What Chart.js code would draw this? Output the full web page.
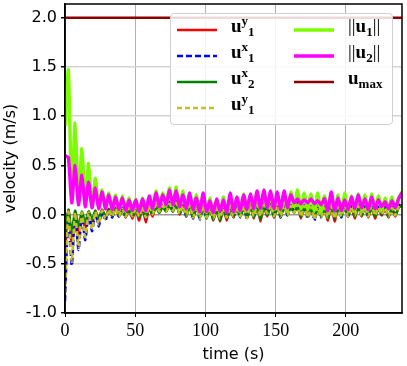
<!DOCTYPE html>
<html>
<head>
<meta charset="utf-8">
<script src="https://cdn.jsdelivr.net/npm/chart.js@4"></script>
<style>
  body { margin: 0; background: #fff; }
  #wrap { position: relative; width: 407px; height: 366px; }
  #legend {
    position: absolute; left: 170px; top: 13px; width: 221px; height: 110px;
    border: 1px solid #d0d0d0; border-radius: 4px; background: rgba(255,255,255,0.85);
  }
  .item { position: absolute; width: 110px; height: 26px; }
  .item svg { position: absolute; left: 0; top: 0; }
  .lab {
    position: absolute; left: 54px; top: -2px; line-height: 26px;
    font: bold 19px 'Liberation Serif', serif; white-space: nowrap; color: #000;
  }
  .lab sup, .lab sub { font-size: 13px; vertical-align: 0; position: relative; }
  .lab sup { top: -0.55em; }
  .lab sub { top: 0.3em; }
  .lab .bar { font-weight: normal; }
</style>
</head>
<body>
<div id="wrap">
  <canvas id="chart" width="407" height="366"></canvas>
  <div id="legend"></div>
</div>
<script>
// sample times (s)
const time = [
  0, 2.4, 4.8, 7.2, 9.6, 12, 14.4, 16.8, 19.2, 21.6,
  24, 26.4, 28.8, 31.2, 33.6, 36, 38.4, 40.8, 43.2, 45.6,
  48, 50.4, 52.8, 55.2, 57.6, 60, 62.4, 64.8, 67.2, 69.6,
  72, 74.4, 76.8, 79.2, 81.6, 84, 86.4, 88.8, 91.2, 93.6,
  96, 98.4, 100.8, 103.2, 105.6, 108, 110.4, 112.8, 115.2, 117.6,
  120, 122.4, 124.8, 127.2, 129.6, 132, 134.4, 136.8, 139.2, 141.6,
  144, 146.4, 148.8, 151.2, 153.6, 156, 158.4, 160.8, 163.2, 165.6,
  168, 170.4, 172.8, 175.2, 177.6, 180, 182.4, 184.8, 187.2, 189.6,
  192, 194.4, 196.8, 199.2, 201.6, 204, 206.4, 208.8, 211.2, 213.6,
  216, 218.4, 220.8, 223.2, 225.6, 228, 230.4, 232.8, 235.2, 237.6,
  240
];

const u1y = [
  -0.35, 0.05, -0.30, 0.02, -0.22, 0.00, -0.15, 0.03, -0.10, 0.04,
  -0.08, 0.05, -0.04, 0.06, -0.02, 0.07, -0.02, 0.06, -0.03, 0.06,
  -0.04, 0.05, -0.06, 0.07, -0.08, 0.08, -0.02, 0.10, 0.02, 0.09,
  0.03, 0.12, 0.04, 0.11, 0.00, 0.09, -0.01, 0.10, -0.03, 0.08,
  -0.02, 0.09, -0.02, 0.07, -0.06, 0.06, -0.07, 0.07, -0.06, 0.06,
  -0.03, 0.08, -0.02, 0.09, -0.03, 0.10, -0.04, 0.11, -0.07, 0.10,
  -0.02, 0.11, -0.03, 0.09, -0.02, 0.10, 0.00, 0.09, 0.02, 0.10,
  -0.04, 0.09, -0.02, 0.08, -0.03, 0.08, -0.02, 0.07, -0.06, 0.10,
  -0.07, 0.08, -0.02, 0.09, -0.02, 0.08, -0.04, 0.09, -0.02, 0.08,
  -0.03, 0.09, -0.04, 0.07, -0.01, 0.07, -0.03, 0.07, -0.02, 0.08,
  0.10
];

const u1x = [
  -0.88, 0.02, -0.52, 0.01, -0.36, 0.00, -0.26, 0.01, -0.17, 0.02,
  -0.12, 0.03, -0.06, 0.05, -0.03, 0.06, -0.02, 0.07, -0.02, 0.08,
  -0.03, 0.07, -0.02, 0.09, -0.04, 0.10, 0.00, 0.12, 0.03, 0.10,
  0.04, 0.13, 0.05, 0.14, 0.01, 0.10, -0.02, 0.11, -0.04, 0.09,
  -0.05, 0.10, -0.03, 0.08, -0.04, 0.07, -0.05, 0.08, -0.03, 0.07,
  -0.02, 0.09, -0.03, 0.10, -0.05, 0.11, -0.02, 0.12, -0.01, 0.12,
  0.02, 0.12, -0.02, 0.10, -0.03, 0.11, -0.01, 0.10, 0.03, 0.12,
  -0.01, 0.10, -0.04, 0.09, -0.06, 0.09, -0.03, 0.08, -0.02, 0.11,
  -0.04, 0.09, -0.03, 0.10, -0.02, 0.09, -0.01, 0.10, 0.00, 0.09,
  -0.02, 0.10, -0.01, 0.08, 0.00, 0.08, -0.02, 0.08, 0.00, 0.09,
  0.12
];

const u2x = [
  -0.20, 0.05, -0.18, 0.04, -0.12, 0.03, -0.08, 0.03, -0.05, 0.04,
  -0.04, 0.05, -0.02, 0.05, -0.01, 0.06, -0.01, 0.05, -0.02, 0.06,
  -0.02, 0.05, -0.03, 0.06, -0.03, 0.07, 0.00, 0.08, 0.02, 0.08,
  0.03, 0.09, 0.03, 0.10, 0.01, 0.08, -0.01, 0.08, -0.03, 0.07,
  -0.03, 0.07, -0.04, 0.06, -0.05, 0.05, -0.06, 0.06, -0.04, 0.05,
  -0.02, 0.06, -0.02, 0.07, -0.03, 0.08, -0.03, 0.08, -0.05, 0.08,
  -0.01, 0.08, -0.02, 0.07, -0.02, 0.08, 0.00, 0.07, 0.02, 0.08,
  -0.02, 0.07, -0.02, 0.06, -0.03, 0.06, -0.02, 0.06, -0.04, 0.08,
  -0.04, 0.07, -0.02, 0.07, -0.01, 0.07, -0.02, 0.07, -0.01, 0.07,
  -0.02, 0.07, -0.02, 0.06, 0.00, 0.06, -0.02, 0.06, -0.01, 0.07,
  0.09
];

const u2y = [
  -0.80, 0.03, -0.48, 0.02, -0.33, 0.02, -0.23, 0.02, -0.15, 0.03,
  -0.10, 0.04, -0.05, 0.05, -0.02, 0.06, -0.02, 0.06, -0.02, 0.07,
  -0.02, 0.06, -0.02, 0.08, -0.03, 0.09, 0.00, 0.10, 0.03, 0.09,
  0.03, 0.11, 0.04, 0.12, 0.01, 0.09, -0.01, 0.10, -0.03, 0.08,
  -0.04, 0.09, -0.03, 0.07, -0.04, 0.06, -0.04, 0.07, -0.03, 0.06,
  -0.02, 0.08, -0.02, 0.09, -0.04, 0.10, -0.02, 0.10, -0.02, 0.10,
  0.01, 0.10, -0.02, 0.09, -0.02, 0.10, -0.01, 0.09, 0.02, 0.10,
  -0.02, 0.09, -0.03, 0.08, -0.05, 0.08, -0.03, 0.07, -0.03, 0.09,
  -0.04, 0.08, -0.02, 0.09, -0.02, 0.08, -0.01, 0.09, -0.01, 0.08,
  -0.02, 0.09, -0.01, 0.07, 0.00, 0.07, -0.02, 0.07, -0.01, 0.08,
  0.11
];

const u1norm = [
  0.90, 1.47, 0.15, 0.93, 0.12, 0.67, 0.10, 0.52, 0.08, 0.37,
  0.07, 0.25, 0.06, 0.22, 0.05, 0.20, 0.04, 0.19, 0.04, 0.17,
  0.03, 0.16, 0.03, 0.17, 0.03, 0.18, 0.05, 0.24, 0.07, 0.22,
  0.09, 0.27, 0.09, 0.28, 0.06, 0.24, 0.05, 0.18, 0.04, 0.20,
  0.02, 0.19, 0.02, 0.17, 0.02, 0.15, 0.02, 0.18, 0.02, 0.17,
  0.03, 0.17, 0.03, 0.21, 0.04, 0.20, 0.05, 0.22, 0.05, 0.23,
  0.07, 0.22, 0.05, 0.20, 0.04, 0.22, 0.05, 0.23, 0.08, 0.25,
  0.06, 0.22, 0.05, 0.21, 0.04, 0.22, 0.03, 0.19, 0.03, 0.22,
  0.04, 0.20, 0.03, 0.22, 0.04, 0.19, 0.04, 0.21, 0.05, 0.20,
  0.04, 0.21, 0.05, 0.19, 0.06, 0.17, 0.05, 0.18, 0.06, 0.17,
  0.23
];

const u2norm = [
  0.60, 0.58, 0.12, 0.50, 0.10, 0.40, 0.08, 0.33, 0.07, 0.27,
  0.06, 0.23, 0.06, 0.20, 0.05, 0.18, 0.05, 0.17, 0.04, 0.15,
  0.04, 0.15, 0.03, 0.16, 0.04, 0.19, 0.06, 0.22, 0.08, 0.20,
  0.10, 0.25, 0.10, 0.24, 0.08, 0.20, 0.06, 0.22, 0.05, 0.17,
  0.03, 0.22, 0.03, 0.14, 0.02, 0.16, 0.03, 0.15, 0.02, 0.22,
  0.03, 0.18, 0.04, 0.20, 0.05, 0.21, 0.06, 0.24, 0.06, 0.25,
  0.07, 0.24, 0.06, 0.23, 0.05, 0.24, 0.07, 0.20, 0.12, 0.16,
  0.11, 0.15, 0.12, 0.16, 0.11, 0.14, 0.10, 0.16, 0.04, 0.23,
  0.04, 0.17, 0.04, 0.15, 0.05, 0.18, 0.06, 0.20, 0.07, 0.16,
  0.05, 0.18, 0.06, 0.15, 0.08, 0.13, 0.06, 0.14, 0.07, 0.16,
  0.22
];

const umaxTime = [0, 240];
const umaxValue = [2, 2];

const yTicks = [-1, -0.5, 0, 0.5, 1, 1.5, 2];
const xTicks = [0, 50, 100, 150, 200];

// legend text (two columns, column-major like matplotlib ncol=2)
const legendLabels = [
  'u<sup>y</sup><sub>1</sub>',
  'u<sup>x</sup><sub>1</sub>',
  'u<sup>x</sup><sub>2</sub>',
  'u<sup>y</sup><sub>1</sub>',
  '<span class="bar">||</span>u<sub>1</sub><span class="bar">||</span>',
  '<span class="bar">||</span>u<sub>2</sub><span class="bar">||</span>',
  'u<sub>max</sub>'
];
const colors = ['#ff0000', '#0000ff', '#008000', '#c8c01e', '#7cfc00', '#ff00ff', '#8b0000'];
const dashes = [[], [6, 3], [], [5, 3], [], [], []];

function pairs(xs, ys) {
  return xs.map((x, i) => ({ x: x, y: ys[i] }));
}

const seriesData = [
  pairs(time, u1y), pairs(time, u1x), pairs(time, u2x), pairs(time, u2y),
  pairs(time, u1norm), pairs(time, u2norm), pairs(umaxTime, umaxValue)
];
const widths = [2.5, 2.5, 2.5, 2.5, 3.4, 3.4, 2.5];
const drawOrder = [5, 4, 3, 2, 1, 0, 0];

const datasets = seriesData.map((d, i) => ({
  label: 'series' + i,
  data: d,
  borderColor: colors[i],
  borderWidth: widths[i],
  borderDash: dashes[i],
  pointRadius: 0,
  tension: 0.2,
  fill: false,
  order: drawOrder[i]
}));

// frame on all four sides, like matplotlib spines
const framePlugin = {
  id: 'frame',
  afterDraw(chart) {
    const a = chart.chartArea;
    const ctx = chart.ctx;
    ctx.save();
    ctx.strokeStyle = '#000';
    ctx.lineWidth = 1.5;
    ctx.strokeRect(a.left, a.top, a.right - a.left, a.bottom - a.top);
    ctx.restore();
  }
};

new Chart(document.getElementById('chart').getContext('2d'), {
  type: 'line',
  data: { datasets: datasets },
  options: {
    responsive: false,
    animation: false,
    layout: { padding: { top: 4, right: 5, left: 0, bottom: 0 } },
    plugins: { legend: { display: false }, tooltip: { enabled: false } },
    scales: {
      x: {
        type: 'linear',
        min: 0,
        max: 240,
        afterFit(scale) {
          scale.height = 53;
          scale.paddingLeft = 0;
          scale.paddingRight = 0;
        },
        afterBuildTicks(scale) { scale.ticks = xTicks.map(v => ({ value: v })); },
        grid: { color: '#b0b0b0', lineWidth: 1, tickColor: '#000', tickLength: 4 },
        border: { color: '#000', width: 1.5 },
        ticks: {
          color: '#000',
          padding: 3,
          maxRotation: 0,
          font: { family: 'Liberation Serif', size: 18 }
        },
        title: {
          display: true,
          text: 'time (s)',
          color: '#000',
          font: { family: 'DejaVu Sans', size: 16 },
          padding: { top: 0, bottom: 2 }
        }
      },
      y: {
        min: -1,
        max: 2.14,
        afterFit(scale) {
          scale.width = 65;
          scale.paddingTop = 0;
          scale.paddingBottom = 0;
        },
        afterBuildTicks(scale) { scale.ticks = yTicks.map(v => ({ value: v })); },
        grid: {
          color: ctx => (ctx.tick && ctx.tick.value === 0) ? '#999999' : '#d4d4d4',
          lineWidth: 1.5,
          tickColor: '#000',
          tickLength: 4
        },
        border: { color: '#000', width: 1.5 },
        ticks: {
          color: '#000',
          padding: 4,
          font: { family: 'DejaVu Sans', size: 16 },
          callback: v => v.toFixed(1)
        },
        title: {
          display: true,
          text: 'velocity (m/s)',
          color: '#000',
          font: { family: 'DejaVu Sans', size: 16 },
          padding: { top: 1, bottom: 0 }
        }
      }
    }
  },
  plugins: [framePlugin]
});

// html legend placed inside the axes, upper right
const legend = document.getElementById('legend');
legendLabels.forEach((txt, i) => {
  const col = i < 4 ? 0 : 1;
  const row = i < 4 ? i : i - 4;
  const item = document.createElement('div');
  item.className = 'item';
  item.style.left = (col === 0 ? 6 : 123) + 'px';
  item.style.top = (3 + row * 26) + 'px';
  const dash = dashes[i].length ? ' stroke-dasharray="' + dashes[i].join(',') + '"' : '';
  item.innerHTML =
    '<svg width="40" height="26"><line x1="0" y1="13" x2="40" y2="13" stroke="' + colors[i] +
    '" stroke-width="' + widths[i] + '"' + dash + '/></svg>' +
    '<span class="lab">' + txt + '</span>';
  legend.appendChild(item);
});
</script>
</body>
</html>
